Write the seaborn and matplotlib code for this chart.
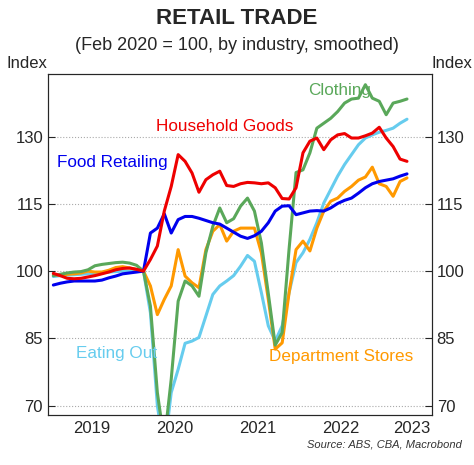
import numpy as np
import pandas as pd
import seaborn as sns
import matplotlib.pyplot as plt

# monthly, Jan 2019 - Apr 2023
food = [96.9, 97.3, 97.6, 97.8, 97.8, 97.8, 97.8, 98.0, 98.5, 98.9, 99.4, 99.6, 99.8, 100.0,
        108.5, 109.6, 112.8, 108.5, 111.5, 112.2, 112.2, 111.8, 111.3, 110.8, 110.5, 109.6,
        108.7, 107.8, 107.3, 107.9, 108.9, 110.8, 113.4, 114.5, 114.6, 112.6, 113.0, 113.4,
        113.5, 113.4, 114.1, 115.1, 115.8, 116.3, 117.4, 118.6, 119.5, 120.0, 120.3, 120.6,
        121.2, 121.7]
household = [99.5, 99.0, 98.4, 98.3, 98.4, 98.7, 99.0, 99.4, 99.8, 100.3, 100.6, 100.7, 100.4, 100.0,
             102.6, 105.6, 113.4, 118.9, 126.0, 124.5, 121.9, 117.6, 120.4, 121.5, 122.3, 119.1,
             118.9, 119.5, 119.8, 119.7, 119.5, 119.7, 118.6, 116.2, 116.1, 118.6, 126.4, 129.0,
             129.7, 127.1, 129.3, 130.4, 130.7, 129.7, 129.7, 130.2, 130.8, 132.1, 129.7, 127.8,
             125.0, 124.5]
clothing = [99.0, 99.3, 99.6, 99.8, 99.9, 100.3, 101.2, 101.5, 101.7, 101.9, 102.0, 101.8, 101.3, 100.0,
            92.2, 72.9, 62.0, 75.9, 93.3, 97.8, 96.7, 94.4, 104.1, 110.0, 114.1, 110.8,
            111.7, 114.5, 116.3, 113.4, 106.3, 95.0, 83.5, 86.3, 105.0, 122.0, 122.6, 126.4,
            131.9, 133.0, 134.1, 135.6, 137.5, 138.4, 138.6, 141.6, 138.6, 137.9, 134.9, 137.5,
            137.9, 138.4]
department = [99.3, 99.0, 99.3, 99.4, 99.6, 100.0, 99.8, 99.8, 100.2, 100.8, 101.0, 100.7, 100.4, 100.0,
              96.7, 90.3, 93.7, 96.7, 104.8, 98.9, 97.4, 96.3, 104.8, 108.9, 110.4, 106.7,
              108.9, 109.6, 109.6, 109.6, 104.1, 93.7, 82.6, 84.0, 95.2, 104.8, 106.7, 104.5,
              109.6, 113.4, 115.6, 116.3, 117.8, 118.9, 120.3, 121.0, 123.2, 119.5, 118.9, 116.7,
              120.0, 120.8]
eating = [98.8, 99.0, 99.1, 99.2, 99.3, 99.4, 99.5, 99.7, 99.8, 99.9, 100.0, 100.0, 100.0, 100.0,
          90.7, 70.0, 60.0, 72.9, 78.1, 83.9, 84.4, 85.2, 90.0, 94.8, 96.7, 97.8,
          99.0, 101.1, 103.5, 102.2, 95.2, 87.8, 84.4, 87.8, 95.2, 101.9, 104.1, 107.1,
          110.8, 115.2, 118.2, 121.2, 123.8, 126.0, 128.2, 129.7, 130.4, 131.0, 131.4, 131.9,
          133.0, 133.9]

series = {'Eating Out': eating, 'Department Stores': department, 'Clothing': clothing,
          'Food Retailing': food, 'Household Goods': household}
colors = {'Eating Out': '#66ccee', 'Department Stores': '#ff9900', 'Clothing': '#5aa85a',
          'Food Retailing': '#0000ee', 'Household Goods': '#ee0000'}

t = 2019 + (np.arange(len(food)) + 0.5) / 12
df = pd.concat([pd.DataFrame({'t': t, 'value': v, 'industry': k}) for k, v in series.items()])

sns.set_style('white')
plt.rcParams['font.family'] = ['Arial', 'Liberation Sans', 'DejaVu Sans']

fig = plt.figure(figsize=(4.74, 4.65), dpi=100)
ax = fig.add_axes([0.101, 0.1075, 0.81, 0.7335])
sns.lineplot(data=df, x='t', y='value', hue='industry', palette=colors, linewidth=2.2,
             legend=False, ax=ax)

ax.set_xlim(2018.976, 2023.59)
ax.set_ylim(67.9, 144)
yt = [70, 85, 100, 115, 130]
ax.set_yticks(yt)
ax.grid(axis='y', color='#aaaaaa', linestyle=':', linewidth=0.8)
ax.set_xticks([2019, 2020, 2021, 2022, 2023])
ax.set_xticklabels([])
ax.set_xticks([2019.5, 2020.5, 2021.5, 2022.5, 2023.35], minor=True)
ax.set_xticklabels(['2019', '2020', '2021', '2022', '2023'], minor=True)
ax.tick_params(axis='x', which='major', direction='in', length=5)
ax.tick_params(axis='x', which='minor', length=0, labelsize=12, pad=4)
ax.tick_params(axis='y', direction='in', length=5, labelsize=12)
ax.set_xlabel('')
ax.set_ylabel('')
for s in ax.spines.values():
    s.set_color('#333333')

ax2 = ax.twinx()
ax2.set_ylim(ax.get_ylim())
ax2.set_yticks(yt)
ax2.tick_params(axis='y', direction='in', length=5, labelsize=12)

ax.text(0.0, 1.01, 'Index', transform=ax.transAxes, ha='right', va='bottom', fontsize=12)
ax.text(1.0, 1.01, 'Index', transform=ax.transAxes, ha='left', va='bottom', fontsize=12)

lab = dict(fontsize=12.3)
ax.text(2021.1, 131.2, 'Household Goods', color=colors['Household Goods'], ha='center', **lab)
ax.text(2019.75, 123.3, 'Food Retailing', color=colors['Food Retailing'], ha='center', **lab)
ax.text(2022.48, 139.3, 'Clothing', color=colors['Clothing'], ha='center', **lab)
ax.text(2019.8, 80.6, 'Eating Out', color=colors['Eating Out'], ha='center', **lab)
ax.text(2022.5, 80.0, 'Department Stores', color=colors['Department Stores'], ha='center', **lab)

fig.text(0.5, 0.96, 'RETAIL TRADE', ha='center', va='center', fontsize=16, fontweight='bold')
fig.text(0.5, 0.902, '(Feb 2020 = 100, by industry, smoothed)', ha='center', va='center', fontsize=13)
fig.text(0.975, 0.045, 'Source: ABS, CBA, Macrobond', ha='right', va='center', fontsize=8,
         style='italic', color='#333333')

fig.savefig('out.png', dpi=100)
